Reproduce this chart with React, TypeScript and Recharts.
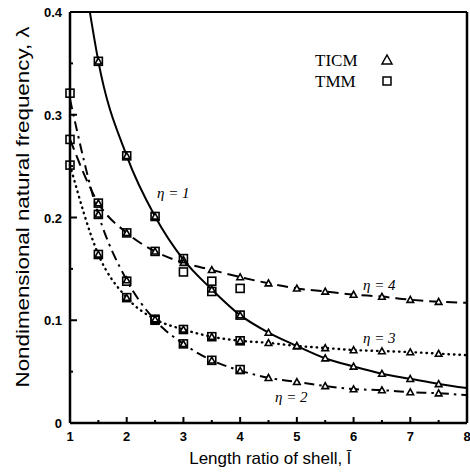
import { ComposedChart, Line, Scatter, XAxis, YAxis } from "recharts";

// length ratio grid used by the TICM curves
const ratios = [1, 1.5, 2, 2.5, 3, 3.5, 4, 4.5, 5, 5.5, 6, 6.5, 7, 7.5, 8];
const ratiosN1 = [1.35, 1.5, 2, 2.5, 3, 3.5, 4, 4.5, 5, 5.5, 6, 6.5, 7, 7.5, 8];

// TICM (lines + triangles)
const ticmN1 = [0.4, 0.352, 0.26, 0.201, 0.159, 0.13, 0.105, 0.088, 0.075, 0.063, 0.055, 0.048, 0.043, 0.038, 0.034];
const ticmN2 = [0.315, 0.203, 0.139, 0.1, 0.077, 0.061, 0.051, 0.044, 0.04, 0.036, 0.033, 0.032, 0.03, 0.029, 0.027];
const ticmN3 = [0.251, 0.164, 0.122, 0.101, 0.091, 0.084, 0.08, 0.078, 0.075, 0.073, 0.071, 0.07, 0.069, 0.0675, 0.066];
const ticmN4 = [0.276, 0.214, 0.185, 0.167, 0.156, 0.149, 0.142, 0.136, 0.131, 0.128, 0.125, 0.123, 0.12, 0.118, 0.117];

// TMM (squares)
const tmmX = [1, 1.5, 2, 2.5, 3, 3.5, 4];
const tmmN1 = [null, 0.352, 0.26, 0.201, 0.16, 0.128, 0.105];
const tmmN2 = [0.321, 0.203, 0.138, 0.1, 0.077, 0.061, 0.052];
const tmmN3 = [0.251, 0.164, 0.122, 0.101, 0.091, 0.084, 0.08];
const tmmN4 = [0.276, 0.214, 0.185, 0.167, 0.147, 0.138, 0.131];

const xTicks = [1, 1.5, 2, 2.5, 3, 3.5, 4, 4.5, 5, 5.5, 6, 6.5, 7, 7.5, 8];
const yTicks = [0, 0.05, 0.1, 0.15, 0.2, 0.25, 0.3, 0.35, 0.4];
const yLabels = ["0", "0.1", "0.2", "0.3", "0.4"];

const toPoints = (xs: number[], ys: (number | null)[]) =>
  xs
    .map((x, i) => ({ x, y: ys[i] }))
    .filter((p) => p.y !== null);

const n1 = toPoints(ratiosN1, ticmN1);
const n2 = toPoints(ratios, ticmN2);
const n3 = toPoints(ratios, ticmN3);
const n4 = toPoints(ratios, ticmN4);
const tmm = [
  ...toPoints(tmmX, tmmN1),
  ...toPoints(tmmX, tmmN2),
  ...toPoints(tmmX, tmmN3),
  ...toPoints(tmmX, tmmN4),
];

const tickFont = {
  fontFamily: "'Liberation Sans', Arial, sans-serif",
  fontSize: 13,
  fontWeight: 700,
};

function XTick(props: any) {
  const { x, y, payload } = props;
  const major = Number.isInteger(payload.value);
  return (
    <g>
      <line x1={x} x2={x} y1={y} y2={y - (major ? 6 : 3)} stroke="#000" strokeWidth={2} />
      {major && (
        <text x={x} y={y + 18} textAnchor="middle" {...tickFont} fill="#000">
          {payload.value}
        </text>
      )}
    </g>
  );
}

function YTick(props: any) {
  const { x, y, payload } = props;
  const major = Math.abs(payload.value * 10 - Math.round(payload.value * 10)) < 1e-6;
  const label = yLabels[Math.round(payload.value * 10)];
  return (
    <g>
      <line x1={x} x2={x + (major ? 7 : 3)} y1={y} y2={y} stroke="#000" strokeWidth={2} />
      {major && (
        <text x={x - 8} y={y + 5} textAnchor="end" {...tickFont} fill="#000">
          {label}
        </text>
      )}
    </g>
  );
}

function RTick(props: any) {
  const { x, y } = props;
  return <line x1={x} x2={x - 3} y1={y} y2={y} stroke="#000" strokeWidth={2} />;
}

function Triangle(props: any) {
  const { cx, cy, payload } = props;
  if (cx == null || cy == null || payload.x < 1.5 || payload.x > 7.5) return <g />;
  const s = 3.3;
  return (
    <path
      d={`M${cx},${cy - s} L${cx + s},${cy + s * 0.8} L${cx - s},${cy + s * 0.8} Z`}
      fill="#fff"
      stroke="#000"
      strokeWidth={1.6}
    />
  );
}

function Square(props: any) {
  const { cx, cy } = props;
  const s = 4;
  return <rect x={cx - s} y={cy - s} width={2 * s} height={2 * s} fill="none" stroke="#000" strokeWidth={1.6} />;
}

export default function App() {
  return (
    <div style={{ position: "absolute", left: 0, top: 0, width: 470, height: 472, background: "#fff" }}>
      <ComposedChart width={470} height={472} margin={{ top: 0, right: 0, bottom: 0, left: 0 }}>
        <XAxis
          dataKey="x"
          type="number"
          domain={[1, 8]}
          ticks={xTicks}
          interval={0}
          height={49}
          tickSize={0}
          tickMargin={0}
          tickLine={false}
          tick={(p: any) => <XTick {...p} />}
          axisLine={{ stroke: "#000", strokeWidth: 2.5 }}
        />
        <XAxis
          xAxisId="top"
          orientation="top"
          dataKey="x"
          type="number"
          domain={[1, 8]}
          height={12}
          tick={false}
          tickLine={false}
          axisLine={{ stroke: "#000", strokeWidth: 2 }}
        />
        <YAxis
          type="number"
          domain={[0, 0.4]}
          ticks={yTicks}
          interval={0}
          width={70}
          tickSize={0}
          tickMargin={0}
          tickLine={false}
          tick={(p: any) => <YTick {...p} />}
          axisLine={{ stroke: "#000", strokeWidth: 2.5 }}
        />
        <YAxis
          yAxisId="right"
          orientation="right"
          type="number"
          domain={[0, 0.4]}
          ticks={yTicks}
          interval={0}
          width={3}
          tickSize={0}
          tickMargin={0}
          tickLine={false}
          tick={(p: any) => <RTick {...p} />}
          axisLine={{ stroke: "#000", strokeWidth: 2.5 }}
        />
        <Line
          data={n1}
          dataKey="y"
          type="monotone"
          stroke="#000"
          strokeWidth={2}
          dot={(p: any) => <Triangle key={p.index} {...p} />}
          isAnimationActive={false}
        />
        <Line
          data={n2}
          dataKey="y"
          type="monotone"
          stroke="#000"
          strokeWidth={2}
          strokeDasharray="10 5 2.5 5"
          dot={(p: any) => <Triangle key={p.index} {...p} />}
          isAnimationActive={false}
        />
        <Line
          data={n3}
          dataKey="y"
          type="monotone"
          stroke="#000"
          strokeWidth={2.4}
          strokeDasharray="0.5 5"
          strokeLinecap="round"
          dot={(p: any) => <Triangle key={p.index} {...p} />}
          isAnimationActive={false}
        />
        <Line
          data={n4}
          dataKey="y"
          type="monotone"
          stroke="#000"
          strokeWidth={2}
          strokeDasharray="11 6"
          dot={(p: any) => <Triangle key={p.index} {...p} />}
          isAnimationActive={false}
        />
        <Scatter data={tmm} dataKey="y" shape={(p: any) => <Square {...p} />} isAnimationActive={false} />
      </ComposedChart>
      <svg
        width={470}
        height={472}
        style={{ position: "absolute", left: 0, top: 0, pointerEvents: "none" }}
      >
        <g fontFamily="'Liberation Serif', 'Times New Roman', serif" fontSize={17} fill="#000">
          <text x={315} y={66}>TICM</text>
          <text x={315} y={87}>TMM</text>
        </g>
        <path d="M387,55 L392,64 L382,64 Z" fill="none" stroke="#000" strokeWidth={1.5} />
        <rect x={383} y={77} width={8} height={8} fill="none" stroke="#000" strokeWidth={1.5} />
        <g fontFamily="'Liberation Serif', 'Times New Roman', serif" fontStyle="italic" fontSize={15} fill="#000">
          <text x={157} y={198}>η = 1</text>
          <text x={363} y={290}>η = 4</text>
          <text x={363} y={343}>η = 3</text>
          <text x={275} y={402}>η = 2</text>
        </g>
        <text
          x={270}
          y={464}
          textAnchor="middle"
          fontFamily="'Liberation Sans', Arial, sans-serif"
          fontSize={17}
          fill="#000"
        >
          Length ratio of shell, l̄
        </text>
        <text
          transform="translate(29,207) rotate(-90)"
          textAnchor="middle"
          fontFamily="'Liberation Sans', Arial, sans-serif"
          fontSize={19}
          textLength={361}
          lengthAdjust="spacingAndGlyphs"
          fill="#000"
        >
          Nondimensional natural frequency, λ
        </text>
      </svg>
    </div>
  );
}
